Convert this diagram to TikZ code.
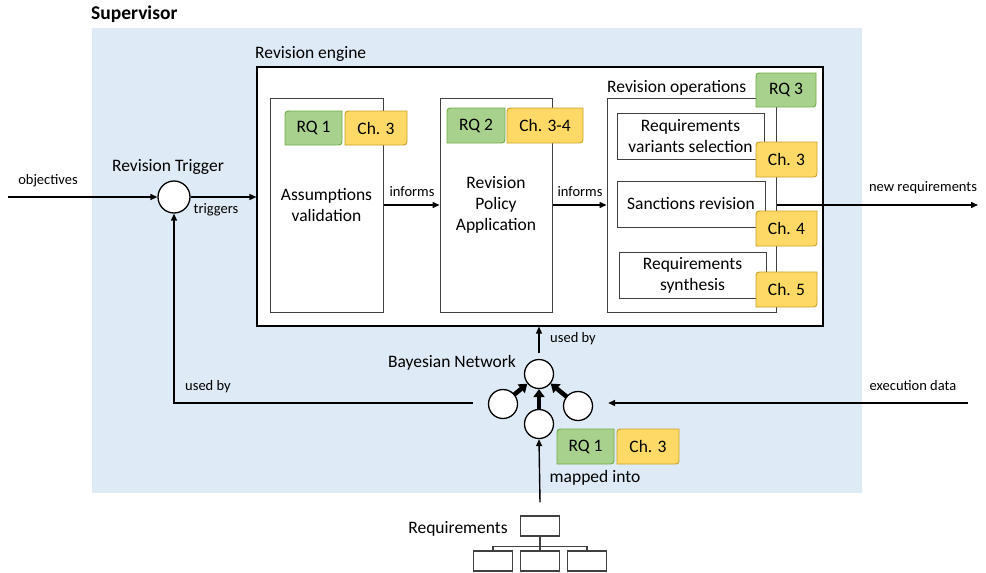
\documentclass[tikz,border=0pt]{standalone}
\usepackage{fontspec}
\setmainfont{Carlito}
\usetikzlibrary{arrows.meta}
\definecolor{bgblue}{HTML}{DEEBF7}
\definecolor{tgfill}{HTML}{A9D18E}
\definecolor{tgdraw}{HTML}{70AD47}
\definecolor{tyfill}{HTML}{FFD966}
\definecolor{tydraw}{HTML}{C9A227}
\definecolor{boxline}{HTML}{404040}
\newcommand\tagbox[7]{%
  \draw[#2] (#3+7,#4) -- (#5,#4) -- (#5,#6-7) .. controls (#5,#6) .. (#5-7,#6) -- (#3,#6) -- (#3,#4+7) .. controls (#3,#4) .. (#3+7,#4) -- cycle;
  \node[tagtext] (#1) at ({(#3+#5)/2},{(#4+#6)/2}) {#7};}
\begin{document}
\begin{tikzpicture}[x=1pt,y=-1pt,
  mainfont/.style={font=\fontsize{17.5}{21}\selectfont},
  smallfont/.style={font=\fontsize{14.5}{17}\selectfont},
  box/.style={draw=boxline, line width=1pt, fill=white, inner sep=0pt, align=center, mainfont},
  outerbox/.style={draw=black, line width=1.1pt, fill=white, inner sep=0pt},
  lbl/.style={inner sep=0pt, mainfont},
  slbl/.style={inner sep=0pt, smallfont},
  tagtext/.style={inner sep=0pt, mainfont},
  greentag/.style={fill=tgfill, draw=tgdraw, line width=0.9pt},
  yellowtag/.style={fill=tyfill, draw=tydraw, line width=0.9pt},
  conn/.style={line width=1.4pt, -{Triangle[length=7pt,width=6pt]}},
  thickconn/.style={line width=4.5pt, -{Triangle[length=8pt,width=11pt]}, shorten <=-1pt},
  circ/.style={circle, draw=black, line width=1.3pt, fill=white, inner sep=0pt},
  treebox/.style={draw=boxline, line width=1.2pt, fill=white, inner sep=0pt, minimum width=39pt, minimum height=20pt},
  treeline/.style={draw=boxline, line width=1.2pt}
]
\useasboundingbox (0,0) rectangle (986,573);
% background
\fill[bgblue] (92,28) rectangle (862,493);
\node[lbl, font=\fontsize{19.5}{23}\selectfont\bfseries, anchor=west] (sup) at (91,14) {Supervisor};

% revision engine
\node[outerbox, minimum width=566pt, minimum height=259pt] (eng) at (540,196.5) {};
\node[lbl, anchor=west] (englbl) at (255,54) {Revision engine};

\node[box, minimum width=113pt, minimum height=214pt] (av) at (326.5,205) {Assumptions\\validation};
\node[box, minimum width=112pt, minimum height=214pt] (rpa) at (496,205) {Revision\\Policy\\Application};
\node[box, minimum width=169pt, minimum height=214pt] (ops) at (691.5,205) {};
\node[lbl, anchor=west] (opslbl) at (607,88) {Revision operations};
\node[box, minimum width=147pt, minimum height=46pt] (rvs) at (690.5,136) {Requirements\\variants selection};
\node[box, minimum width=148pt, minimum height=46pt] (sr) at (691,204) {Sanctions revision};
\node[box, minimum width=147pt, minimum height=46pt] (rs) at (692.5,275) {Requirements\\synthesis};

% tags
\tagbox{rqa}{greentag}{285}{111}{342}{145}{RQ 1}
\tagbox{cha}{yellowtag}{345}{111}{407}{145}{Ch. 3}
\tagbox{rqb}{greentag}{447}{108}{505}{143}{RQ 2}
\tagbox{chb}{yellowtag}{507}{108}{583}{143}{Ch. 3-4}
\tagbox{rqc}{greentag}{756}{73}{816}{107}{RQ 3}
\tagbox{chc}{yellowtag}{756}{142}{817}{177}{Ch. 3}
\tagbox{chd}{yellowtag}{756}{211}{817}{246}{Ch. 4}
\tagbox{che}{yellowtag}{756}{272}{817}{307}{Ch. 5}
\tagbox{rqd}{greentag}{557}{429}{614}{464}{RQ 1}
\tagbox{chf}{yellowtag}{617}{429}{679}{464}{Ch. 3}

% revision trigger
\node[circ, minimum size=32pt] (trig) at (174,197) {};
\node[lbl] (triglbl) at (168,167) {Revision Trigger};
\coordinate (objin) at (8,197);
\draw[conn] (objin) -- (trig);
\node[slbl] (objlbl) at (48,181) {objectives};
\draw[conn] (trig) -- (trig -| eng.west);
\node[slbl] (trglbl) at (216,210) {triggers};

\draw[conn] (av.east) -- (rpa.west);
\node[slbl] (inf1) at (412,192) {informs};
\draw[conn] (rpa.east) -- (ops.west);
\node[slbl] (inf2) at (580,192) {informs};
\coordinate (newout) at (978,205);
\draw[conn] (ops.east |- newout) -- (newout);
\node[slbl] (newlbl) at (923,188) {new requirements};

% Bayesian network
\node[circ, minimum size=29pt] (bnT) at (539,374) {};
\node[circ, minimum size=29pt] (bnL) at (503,404) {};
\node[circ, minimum size=29pt] (bnR) at (578,406) {};
\node[circ, minimum size=29pt] (bnB) at (539,424) {};
\node[lbl] (bnlbl) at (452,363) {Bayesian Network};
\draw[thickconn] (bnL) -- (bnT);
\draw[thickconn] (bnR) -- (bnT);
\draw[thickconn] (bnB) -- (bnT);

\draw[conn] ([yshift=6pt]bnT.north) -- (bnT.north |- eng.south);
\node[slbl] (usedby1) at (573,339) {used by};
\draw[conn] ([xshift=-15pt,yshift=1pt]bnL.west) -| (trig.south);
\node[slbl] (usedby2) at (208,387) {used by};
\coordinate (exin) at (968,403);
\draw[conn] (exin) -- ([xshift=15pt]bnR.east |- exin);
\node[slbl] (exlbl) at (913,386) {execution data};

% requirements tree
\node[treebox] (rtop) at (540,526) {};
\node[treebox] (rL) at (493,561) {};
\node[treebox] (rM) at (540,561) {};
\node[treebox] (rR) at (587,561) {};
\node[lbl] (reqlbl) at (458,529) {Requirements};
\draw[treeline] (rtop.south) -- (rM.north);
\draw[treeline] (rL.north) -- ++(0,-4) -| (rR.north);
\draw[conn] ([yshift=13pt]rtop.north) -- (bnB.south);
\node[lbl] (mapped) at (595,478) {mapped into};
\end{tikzpicture}
\end{document}
